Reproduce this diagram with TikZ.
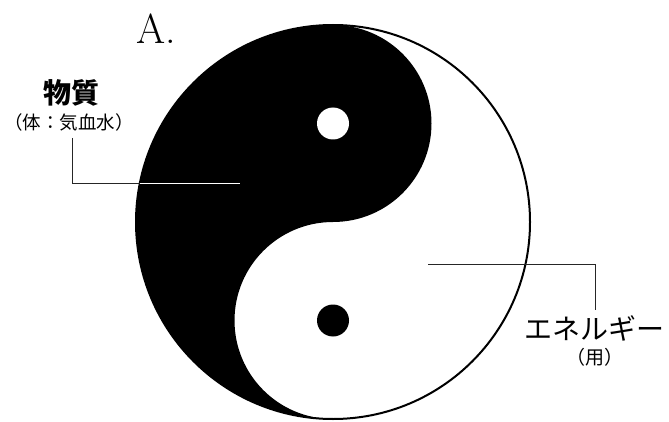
\documentclass[tikz,border=0pt]{standalone}
\usepackage{fontspec}
\newfontfamily\jp{Noto Sans CJK JP}
\begin{document}
\begin{tikzpicture}[x=1pt,y=1pt,
  leader/.style={line width=0.9pt, draw=black!85},
  leaderw/.style={line width=0.9pt, draw=white},
  biglabel/.style={inner sep=0pt, font=\jp\fontsize{28}{30}\selectfont},
  smalllabel/.style={inner sep=0pt, font=\jp\fontsize{18.5}{20}\selectfont}]
\useasboundingbox (0,0) rectangle (669,421);
\def\R{197}
\def\r{98.5}
\coordinate (C) at (333,199);
\coordinate (T) at (333,396);
\coordinate (B) at (333,2);
\coordinate (U) at (333,297.5);
\coordinate (L) at (333,100.5);
% black half
\fill[black] (T) arc[start angle=90, end angle=270, radius=\R]
  arc[start angle=270, end angle=90, radius=\r]
  arc[start angle=270, end angle=450, radius=\r] -- cycle;
% dots
\fill[white] (U) circle[radius=16];
\fill[black] (L) circle[radius=16];
% outline
\draw[line width=2pt] (C) circle[radius=\R];
% labels
\node[inner sep=0pt, font=\fontsize{42}{42}\selectfont] (A) at (156,392) {A.};
\node[biglabel, font=\jp\bfseries\fontsize{28}{30}\selectfont] (mat) at (71,328) {物質};
\node[smalllabel] (matsub) at (69,299) {（体：気血水）};
\node[biglabel] (ene) at (594,93) {エネルギー};
\node[smalllabel, font=\jp\fontsize{19}{20}\selectfont] (enesub) at (595,64) {（用）};
% leaders
\coordinate (m1) at (72,283);
\coordinate (m2) at (72,238);
\coordinate (m3) at (140,238);
\coordinate (m4) at (240,238);
\draw[leader] (m1) -- (m2) -- (m3);
\draw[leaderw] (m3) -- (m4);
\coordinate (e1) at (428,157);
\coordinate (e2) at (595,157);
\coordinate (e3) at (595,111);
\draw[leader] (e1) -- (e2) -- (e3);
\end{tikzpicture}
\end{document}
